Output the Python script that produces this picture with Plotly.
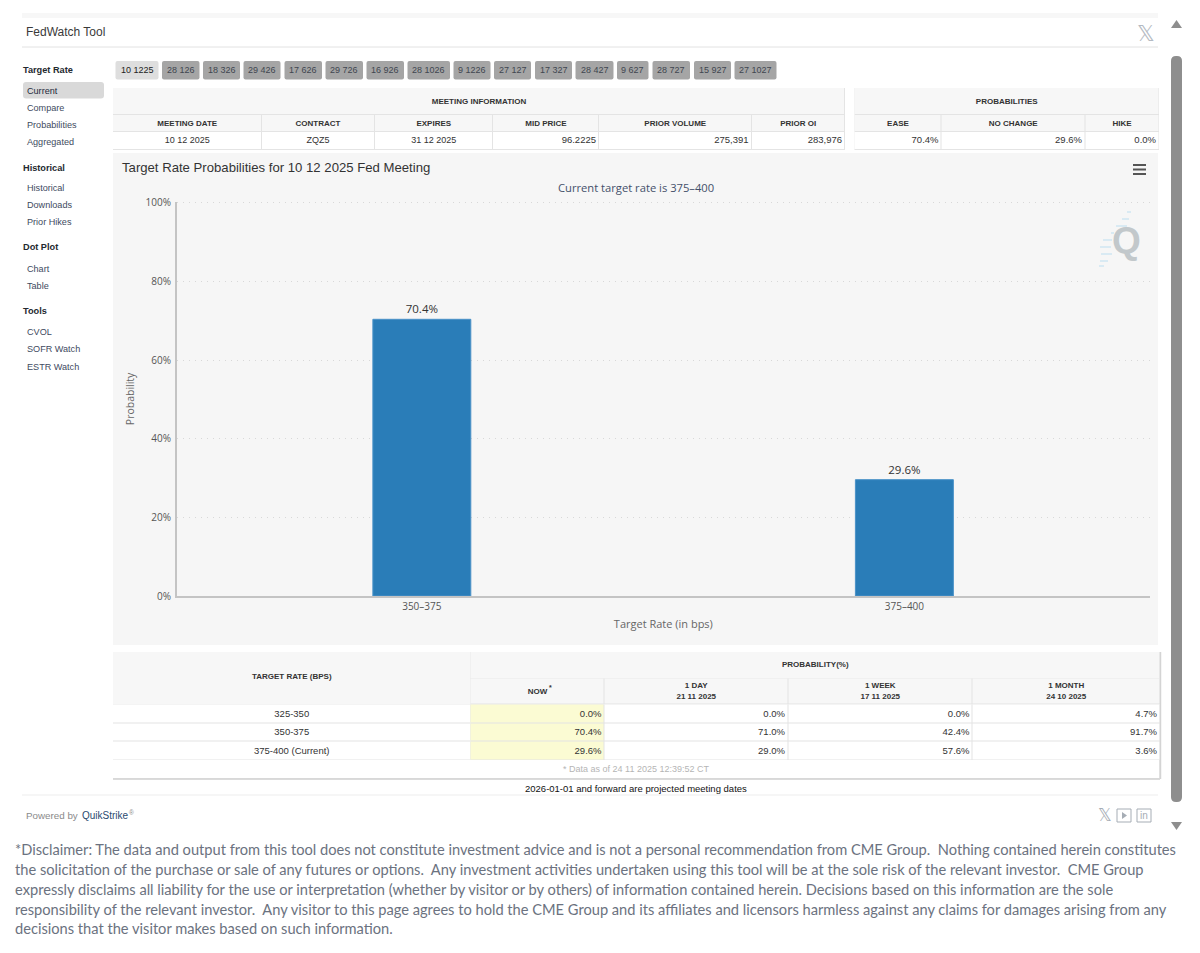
import plotly.graph_objects as go

# chart values
chart_rates = ['350–375', '375–400']
chart_probs = [70.4, 29.6]
y_ticks = [0, 20, 40, 60, 80, 100]

# page texts
tab_labels = ['10 1225', '28 126', '18 326', '29 426', '17 626', '29 726', '16 926', '28 1026',
              '9 1226', '27 127', '17 327', '28 427', '9 627', '28 727', '15 927', '27 1027']
menu_heads = ['Target Rate', 'Historical', 'Dot Plot', 'Tools']
menu_items = ['Current', 'Compare', 'Probabilities', 'Aggregated', 'Historical', 'Downloads',
              'Prior Hikes', 'Chart', 'Table', 'CVOL', 'SOFR Watch', 'ESTR Watch']

# top tables
info_cols = ['MEETING DATE', 'CONTRACT', 'EXPIRES', 'MID PRICE', 'PRIOR VOLUME', 'PRIOR OI']
info_vals = ['10 12 2025', 'ZQZ5', '31 12 2025', '96.2225', '275,391', '283,976']
prob_cols = ['EASE', 'NO CHANGE', 'HIKE']
prob_vals = ['70.4%', '29.6%', '0.0%']

# bottom table
rate_labels = ['325-350', '350-375', '375-400 (Current)']
hist_cols = ['NOW', '1 DAY<br>21 11 2025', '1 WEEK<br>17 11 2025', '1 MONTH<br>24 10 2025']
prob_now = ['0.0%', '70.4%', '29.6%']
prob_1day = ['0.0%', '71.0%', '29.0%']
prob_1week = ['0.0%', '42.4%', '57.6%']
prob_1month = ['4.7%', '91.7%', '3.6%']

disclaimer = [
    '*Disclaimer: The data and output from this tool does not constitute investment advice and is not a personal recommendation from CME Group.\u00a0 Nothing contained herein constitutes',
    'the solicitation of the purchase or sale of any futures or options.\u00a0 Any investment activities undertaken using this tool will be at the sole risk of the relevant investor.\u00a0 CME Group',
    'expressly disclaims all liability for the use or interpretation (whether by visitor or by others) of information contained herein. Decisions based on this information are the sole',
    'responsibility of the relevant investor.\u00a0 Any visitor to this page agrees to hold the CME Group and its affiliates and licensors harmless against any claims for damages arising from any',
    'decisions that the visitor makes based on such information.',
]

# layout positions, in page pixels
tab_edges = [(115.5, 158.5), (162, 199.5), (203, 240), (243.5, 280.5), (284.5, 322), (325.5, 363),
             (366.5, 404), (407.5, 450), (453.5, 490.5), (494, 531), (535, 572), (575.5, 613.5),
             (617, 648.5), (652.5, 690), (694, 731), (734.5, 776.5)]
menu_head_y = [69.7, 167.7, 246.7, 310.7]
menu_item_y = [90.7, 107.7, 124.7, 141.7, 187.7, 204.7, 221.7, 268.7, 285.7, 331.7, 348.7, 366.7]
info_x = [113, 261.5, 374.5, 493, 599, 751.5, 845]
prob_x = [854.5, 941.5, 1085, 1159]
top_y = [88, 115, 132, 150]
hist_x = [470.5, 604.5, 788, 972.5, 1160]
hist_y = [652, 678.5, 704.5, 723, 741.5, 760]
disclaimer_y = [849, 869, 889, 909, 928]

FONT = 'Liberation Sans'
CHART_FONT = 'Open Sans'
HEAD_BG = 1
DATA_BG = 0
NOW_BG = 2
cell_scale = [[0, '#ffffff'], [0.5, '#f7f7f7'], [1, '#fbfbd3']]

fig = go.Figure()
shapes = []
notes = []


def note(x, y, text, size=9.5, color='#333333', anchor='left', family=FONT, **kw):
    notes.append(dict(x=x, y=y, xref='x', yref='y', text=text, showarrow=False, xanchor=anchor,
                      yanchor='middle', borderpad=0,
                      font=dict(size=size, color=color, family=family), **kw))


def rect(x0, y0, x1, y1, fill, r=0):
    if r:
        path = (f'M{x0+r},{y0} L{x1-r},{y0} Q{x1},{y0} {x1},{y0+r} L{x1},{y1-r} Q{x1},{y1} {x1-r},{y1} '
                f'L{x0+r},{y1} Q{x0},{y1} {x0},{y1-r} L{x0},{y0+r} Q{x0},{y0} {x0+r},{y0} Z')
        shapes.append(dict(type='path', path=path, xref='x', yref='y', fillcolor=fill,
                           line=dict(width=0), layer='below'))
    else:
        shapes.append(dict(type='rect', x0=x0, y0=y0, x1=x1, y1=y1, xref='x', yref='y',
                           fillcolor=fill, line=dict(width=0), layer='below'))


def hline(x0, x1, y, color, width=1):
    shapes.append(dict(type='line', x0=x0, x1=x1, y0=y, y1=y, xref='x', yref='y',
                       line=dict(color=color, width=width), layer='above'))


def cells(xs, ys, z):
    # table cells: a brick heatmap with gaps, the grid colour shows through from behind
    rect(xs[0], ys[0], xs[-1], ys[-1], '#e4e4e4')
    fig.add_trace(go.Heatmap(x=xs, y=ys, z=z, zmin=0, zmax=2, colorscale=cell_scale, showscale=False,
                             xgap=1, ygap=1, hoverinfo='skip', xaxis='x', yaxis='y'))


def cell_text(xs, ys, texts, size=9.5, color='#333333', family=FONT, right=False):
    fig.add_trace(go.Scatter(x=xs, y=ys, text=texts, mode='text', hoverinfo='skip', showlegend=False,
                             textposition='middle left' if right else 'middle center',
                             textfont=dict(size=size, color=color, family=family),
                             cliponaxis=False, xaxis='x', yaxis='y'))


def mids(v):
    return [(a + b) / 2 for a, b in zip(v[:-1], v[1:])]


# page frame
rect(22, 13, 1158, 18, '#f7f7f7')
hline(22, 1158, 47, '#e2e2e2')
hline(22, 1158, 795, '#ededed')
note(25, 32, 'FedWatch Tool', size=12, color='#3a3a3a')
note(1146, 33, '𝕏', size=22, color='#b4bac2', anchor='center', family='DejaVu Sans')

# scrollbar
rect(1171, 56, 1182, 802, '#8e8e8e', r=5)
shapes.append(dict(type='path', path='M1171,28 L1176.5,20 L1182,28 Z', xref='x', yref='y',
                   fillcolor='#8e8e8e', line=dict(width=0)))
shapes.append(dict(type='path', path='M1171,822 L1182,822 L1176.5,830 Z', xref='x', yref='y',
                   fillcolor='#8e8e8e', line=dict(width=0)))

# side menu
rect(23, 82, 104, 98.5, '#d9d9d9', r=3)
for text, y in zip(menu_heads, menu_head_y):
    note(22, y, f'<b>{text}</b>', size=9.2, color='#24292f')
for text, y in zip(menu_items, menu_item_y):
    note(26, y, text, size=9.1, color='#1f2b3d' if text == 'Current' else '#3e4a60')

# meeting tabs
for i, (text, (x0, x1)) in enumerate(zip(tab_labels, tab_edges)):
    rect(x0, 61, x1, 79.5, '#dedede' if i == 0 else '#a5a5a5', r=2)
    note((x0 + x1) / 2, 70, text, size=9, color='#222222' if i == 0 else '#3f4650', anchor='center')

# meeting information table
cells([info_x[0], info_x[-1]], top_y[:2], [[HEAD_BG]])
cells(info_x, top_y[1:3], [[HEAD_BG] * len(info_cols)])
cells(info_x, top_y[2:], [[DATA_BG] * len(info_cols)])
cell_text([(info_x[0] + info_x[-1]) / 2], [mids(top_y)[0]], ['<b>MEETING INFORMATION</b>'], size=8)
cell_text(mids(info_x), [mids(top_y)[1]] * 6, [f'<b>{c}</b>' for c in info_cols], size=8)
cell_text(mids(info_x[:3]), [mids(top_y)[2]] * 2, info_vals[:2], size=9)
cell_text([mids(info_x)[2]], [mids(top_y)[2]], info_vals[2:3], size=9)
cell_text([x - 3 for x in info_x[4:]], [mids(top_y)[2]] * 3, info_vals[3:], size=9.5, right=True)

# probabilities table
cells([prob_x[0], prob_x[-1]], top_y[:2], [[HEAD_BG]])
cells(prob_x, top_y[1:3], [[HEAD_BG] * len(prob_cols)])
cells(prob_x, top_y[2:], [[DATA_BG] * len(prob_cols)])
cell_text([(prob_x[0] + prob_x[-1]) / 2], [mids(top_y)[0]], ['<b>PROBABILITIES</b>'], size=8)
cell_text(mids(prob_x), [mids(top_y)[1]] * 3, [f'<b>{c}</b>' for c in prob_cols], size=8)
cell_text([x - 3 for x in prob_x[1:]], [mids(top_y)[2]] * 3, prob_vals, size=9.5, right=True)

# chart panel and its furniture
rect(113, 153, 1158, 645, '#f6f6f6')
note(121, 167, 'Target Rate Probabilities for 10 12 2025 Fed Meeting', size=13.15, color='#333333')
note(636, 187, 'Current target rate is 375–400', size=11.2, color='#44506a', anchor='center', family=CHART_FONT)
for y in (165, 169.5, 174):
    hline(1133, 1146, y, '#555555', 2)
note(1126, 240, '<b>Q</b>', size=37, color='#c2c8cb', anchor='center', family='Liberation Sans')
for y, x0, x1 in [(212, 1127, 1131), (219, 1122, 1129), (226, 1116, 1127), (233, 1111, 1114),
                  (240, 1103, 1112), (247, 1100, 1111), (254, 1101, 1112), (261, 1100, 1108),
                  (266, 1099, 1104)]:
    hline(x0, x1, y, '#cfe6f2', 1.5)

# bottom table
cells([113, hist_x[0]], [hist_y[0], hist_y[2]], [[HEAD_BG]])
cells([hist_x[0], hist_x[-1]], hist_y[:2], [[HEAD_BG]])
cells(hist_x, hist_y[1:3], [[HEAD_BG] * len(hist_cols)])
cells([113, hist_x[0]], hist_y[2:], [[DATA_BG]] * len(rate_labels))
cells(hist_x, hist_y[2:], [[NOW_BG, DATA_BG, DATA_BG, DATA_BG]] * len(rate_labels))
cells([113, hist_x[-1]], [hist_y[-1], 778.5], [[DATA_BG]])
hline(113, 1160, 779, '#cfcfcf', 1.5)
shapes.append(dict(type='line', x0=1160.5, x1=1160.5, y0=652, y1=779, xref='x', yref='y',
                   line=dict(color='#d4d4d4', width=1.5)))
row_mid = [y + 0.5 for y in mids(hist_y[2:])]
cell_text([(113 + hist_x[0]) / 2], [(hist_y[0] + hist_y[2]) / 2 - 1.5], ['<b>TARGET RATE (BPS)</b>'], size=8)
cell_text([(hist_x[0] + hist_x[-1]) / 2], [mids(hist_y)[0]], ['<b>PROBABILITY(%)</b>'], size=8)
cell_text(mids(hist_x), [mids(hist_y)[1]] * 4, [f'<b>{c}</b>' for c in hist_cols], size=8)
note(548, 687.5, '<b>*</b>', size=7, color='#333333')
cell_text([(113 + hist_x[0]) / 2] * 3, row_mid, rate_labels, size=9.5)
for col, edge in zip([prob_now, prob_1day, prob_1week, prob_1month], hist_x[1:]):
    cell_text([edge - 3] * 3, row_mid, col, size=9.5, right=True)
note(636, 769, '* Data as of 24 11 2025 12:39:52 CT', size=9, color='#b5b5b5', anchor='center')
note(636, 788, '2026-01-01 and forward are projected meeting dates', size=9.5, color='#111111', anchor='center')

# footer
note(25, 815, 'Powered by', size=9.8, color='#8a8a8a')
note(81, 815, 'QuikStrike', size=10, color='#2b4a6f')
note(127.5, 812, '®', size=6.5, color='#8a8a8a')
note(1105, 815, '𝕏', size=17, color='#a6adb5', anchor='center', family='DejaVu Sans')
for x0, text in [(1117, ''), (1137, 'in')]:
    shapes.append(dict(type='rect', x0=x0, x1=x0 + 14, y0=809, y1=822, xref='x', yref='y',
                       fillcolor='rgba(0,0,0,0)', line=dict(color='#a6adb5', width=1)))
    if text:
        note(x0 + 7, 815.5, text, size=10, color='#a6adb5', anchor='center')
shapes.append(dict(type='path', path='M1122,812 L1127,815.5 L1122,819 Z', xref='x', yref='y',
                   fillcolor='#a6adb5', line=dict(width=0)))

for text, y in zip(disclaimer, disclaimer_y):
    note(14, y, text, size=14.65, color='#6b7280', family='Lato')

# the chart itself
fig.add_trace(go.Bar(x=chart_rates, y=chart_probs, width=0.203, marker=dict(color='#2a7db8', line=dict(color='#4a92c8', width=1)),
                     text=[f'{p}%' for p in chart_probs], textposition='outside', cliponaxis=False,
                     textfont=dict(size=11.5, color='#333333', family=CHART_FONT),
                     hoverinfo='skip', xaxis='x2', yaxis='y2'))

fig.update_layout(
    width=1200, height=953, margin=dict(l=0, r=0, t=0, b=0),
    paper_bgcolor='#ffffff', plot_bgcolor='rgba(0,0,0,0)', showlegend=False,
    shapes=shapes, annotations=notes,
    xaxis=dict(domain=[0, 1], range=[0, 1200], visible=False, fixedrange=True, automargin=False),
    yaxis=dict(domain=[0, 1], range=[953, 0], visible=False, fixedrange=True, automargin=False),
    xaxis2=dict(domain=[176.7 / 1200, 1150 / 1200], anchor='y2', type='category', range=[-0.508, 1.509],
                showline=True, linecolor='#c4c4c4', linewidth=1.5, showgrid=False, ticks='', automargin=False,
                tickfont=dict(size=10, color='#555555', family=CHART_FONT),
                title=dict(text='Target Rate (in bps)', standoff=9,
                           font=dict(size=11, color='#666666', family=CHART_FONT))),
    yaxis2=dict(domain=[1 - 596 / 953, 1 - 201.8 / 953], anchor='x2', range=[0, 100.3], tickvals=y_ticks,
                ticktext=[f'{t}%' for t in y_ticks], showline=True, linecolor='#c4c4c4', linewidth=1.5,
                zeroline=False, gridcolor='#d8d8d8', griddash='1.5px,4.5px', gridwidth=1, ticks='', automargin=False,
                ticklabelstandoff=2, tickfont=dict(size=10, color='#555555', family=CHART_FONT),
                title=dict(text='Probability', standoff=9,
                           font=dict(size=10.5, color='#666666', family=CHART_FONT))),
)

fig.write_html('out.html', config={'displayModeBar': False},
               post_script="document.body.style.margin='0';document.body.style.overflow='hidden';")
